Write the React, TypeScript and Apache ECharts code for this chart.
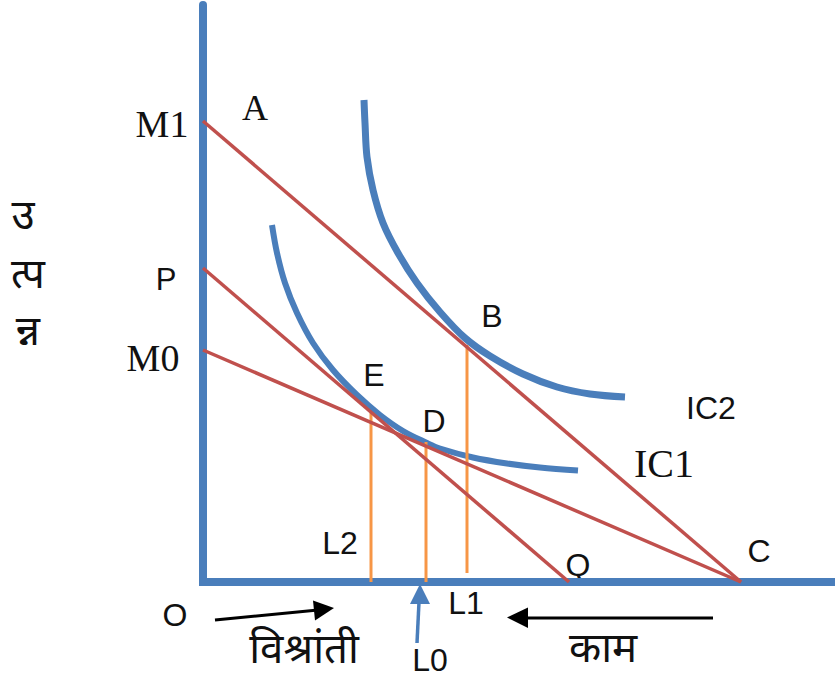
import React, { useEffect, useRef } from 'react';
import * as echarts from 'echarts';

// Leisure (x) against income (y), both in diagram units.
// Higher indifference curve IC2, tangent to budget line M1–C at B.
const ic2Points: [number, number][] = [
  [16.1, 48.2], [16.2, 45.9], [16.4, 42.5], [17.0, 39.2], [18.0, 35.9], [19.5, 32.9],
  [21.4, 29.9], [23.7, 27.0], [26.2, 24.4], [28.7, 22.6], [32.0, 20.8], [35.4, 19.5],
  [38.7, 18.8], [42.2, 18.5],
];

// Lower indifference curve IC1, tangent at E (P–Q) and D (M0–C).
const ic1Points: [number, number][] = [
  [6.9, 35.7], [7.4, 32.9], [8.2, 29.9], [9.4, 26.9], [11.0, 23.9], [13.0, 21.2],
  [15.4, 18.7], [17.7, 16.7], [20.0, 15.1], [22.4, 13.9], [23.7, 13.35], [27.0, 12.45],
  [30.4, 11.85], [33.7, 11.45], [37.5, 11.15],
];

// Budget lines
const budgetM1C: [number, number][] = [[0, 46.1], [53.8, 0]];
const budgetPQ: [number, number][] = [[0, 31.4], [36.6, 0]];
const budgetM0C: [number, number][] = [[0, 23.2], [53.8, 0]];

// Drops from the tangency points to the leisure axis
const dropL2: [number, number][] = [[16.8, 0], [16.8, 16.9]];
const dropL0: [number, number][] = [[22.3, 0], [22.3, 14.0]];
const dropL1: [number, number][] = [[26.4, 0.9], [26.4, 23.7]];

// Axis ranges
const xRange = [0, 63.2];
const yRange = [0, 57.7];

// Vertical axis title, one syllable per row
const yTitleParts = ['उ', 'त्प', 'न्न'];

const BLUE = '#4a7ebb';
const RED = '#c0504d';
const ORANGE = '#f79646';
const SANS = '"Liberation Sans", Arial, sans-serif';
const SERIF = '"Liberation Serif", "Times New Roman", serif';
const DEVA = '"Noto Sans Devanagari", "Lohit Devanagari", "FreeSans", "Noto Sans", sans-serif';

function label(text: string, x: number, y: number, size: number, family: string) {
  return {
    type: 'text',
    x,
    y,
    silent: true,
    style: {
      text,
      fill: '#111',
      font: `${size}px ${family}`,
      align: 'center',
      verticalAlign: 'middle',
    },
  };
}

function lineSeries(data: [number, number][], color: string, width: number) {
  return {
    type: 'line',
    data,
    symbol: 'none',
    showSymbol: false,
    clip: false,
    silent: true,
    lineStyle: { color, width, cap: 'butt' },
  };
}

// Smooth curve through the given points, placed with the grid's own scales
function curveSeries(points: [number, number][], color: string, width: number) {
  return {
    type: 'custom',
    data: [points[0]],
    clip: false,
    silent: true,
    renderItem: (_params: any, api: any) => ({
      type: 'polyline',
      shape: { points: points.map((p) => api.coord(p)), smooth: 0.35 },
      style: { stroke: color, lineWidth: width, fill: null, lineCap: 'butt' },
    }),
  };
}

export default function App() {
  const ref = useRef<HTMLDivElement>(null);

  useEffect(() => {
    if (!ref.current) return;
    const chart = echarts.init(ref.current, null, { renderer: 'svg' });

    const graphic: any[] = [
      label('M1', 162, 124, 38, SERIF),
      label('A', 255, 108, 36, SERIF),
      label('P', 166, 279, 31, SANS),
      label('M0', 153, 358, 38, SERIF),
      label('B', 492, 316, 32, SANS),
      label('E', 374, 375, 32, SANS),
      label('D', 434, 421, 32, SANS),
      label('IC2', 711, 408, 32, SANS),
      label('IC1', 664, 463, 40, SERIF),
      label('L2', 340, 543, 32, SANS),
      label('Q', 578, 565, 32, SANS),
      label('C', 759, 551, 32, SANS),
      label('L1', 466, 603, 32, SANS),
      label('O', 175, 615, 32, SANS),
      label('L0', 430, 660, 32, SANS),
      label('विश्रांती', 304, 652, 42, DEVA),
      label('काम', 603, 651, 42, DEVA),
      ...yTitleParts.map((t, i) => label(t, [23, 28, 28][i], [218, 277, 334][i], 42, DEVA)),
      // rest → arrow
      { type: 'line', silent: true, shape: { x1: 215, y1: 620, x2: 318, y2: 610 }, style: { stroke: '#000', lineWidth: 3 } },
      { type: 'polygon', silent: true, shape: { points: [[334, 608], [313, 600.5], [315, 620.5]] }, style: { fill: '#000' } },
      // work ← arrow
      { type: 'line', silent: true, shape: { x1: 713, y1: 618, x2: 524, y2: 618 }, style: { stroke: '#000', lineWidth: 3 } },
      { type: 'polygon', silent: true, shape: { points: [[507, 617.5], [528, 607.5], [528, 628]] }, style: { fill: '#000' } },
      // L0 pointer
      { type: 'line', silent: true, shape: { x1: 417, y1: 643, x2: 419, y2: 602 }, style: { stroke: BLUE, lineWidth: 3.5 } },
      { type: 'polygon', silent: true, shape: { points: [[420, 584], [410, 604], [430, 604]] }, style: { fill: BLUE } },
    ];

    chart.setOption({
      animation: false,
      backgroundColor: '#ffffff',
      grid: { left: 203, top: 5, right: 0, bottom: 97 },
      xAxis: {
        type: 'value',
        min: xRange[0],
        max: xRange[1],
        axisLine: { show: true, onZero: false, lineStyle: { color: BLUE, width: 8, cap: 'square' } },
        axisTick: { show: false },
        axisLabel: { show: false },
        splitLine: { show: false },
      },
      yAxis: {
        type: 'value',
        min: yRange[0],
        max: yRange[1],
        axisLine: { show: true, onZero: false, lineStyle: { color: BLUE, width: 8 } },
        axisTick: { show: false },
        axisLabel: { show: false },
        splitLine: { show: false },
      },
      series: [
        lineSeries(dropL2, ORANGE, 3),
        lineSeries(dropL0, ORANGE, 3),
        lineSeries(dropL1, ORANGE, 3),
        curveSeries(ic2Points, BLUE, 7),
        curveSeries(ic1Points, BLUE, 6),
        lineSeries(budgetM1C, RED, 3.5),
        lineSeries(budgetPQ, RED, 3.5),
        lineSeries(budgetM0C, RED, 3.5),
      ],
      graphic,
    });

    return () => chart.dispose();
  }, []);

  return (
    <div
      ref={ref}
      style={{ position: 'fixed', left: 0, top: 0, width: 835, height: 679, background: '#fff' }}
    />
  );
}
